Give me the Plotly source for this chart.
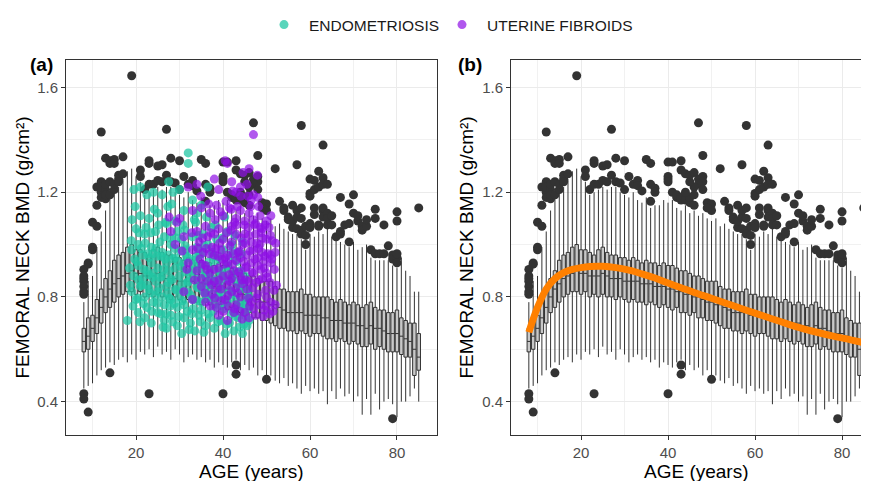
import plotly.graph_objects as go

# ---------------- data ----------------
ages = [8, 9, 10, 11, 12, 13, 14, 15, 16, 17, 18, 19,
        20, 21, 22, 23, 24, 25, 26, 27, 28, 29,
        30, 31, 32, 33, 34, 35, 36, 37, 38, 39,
        40, 41, 42, 43, 44, 45, 46, 47, 48, 49,
        50, 51, 52, 53, 54, 55, 56, 57, 58, 59,
        60, 61, 62, 63, 64, 65, 66, 67, 68, 69,
        70, 71, 72, 73, 74, 75, 76, 77, 78, 79,
        80, 81, 82, 83, 84, 85]

box_q1 = [0.59, 0.60, 0.63, 0.66, 0.70, 0.74, 0.76, 0.78, 0.80, 0.81, 0.82, 0.82,
          0.81, 0.82, 0.80, 0.81, 0.80, 0.81, 0.80, 0.80, 0.79, 0.80,
          0.79, 0.78, 0.79, 0.78, 0.78, 0.77, 0.78, 0.77, 0.76, 0.77,
          0.76, 0.75, 0.76, 0.74, 0.74, 0.73, 0.74, 0.72, 0.72, 0.71,
          0.71, 0.70, 0.69, 0.68, 0.68, 0.67, 0.67, 0.66, 0.67, 0.66,
          0.65, 0.66, 0.66, 0.65, 0.64, 0.64, 0.63, 0.64, 0.63, 0.62,
          0.63, 0.62, 0.61, 0.61, 0.62, 0.60, 0.61, 0.60, 0.59, 0.59,
          0.59, 0.58, 0.57, 0.57, 0.50, 0.52]

box_median = [0.63, 0.65, 0.68, 0.72, 0.76, 0.80, 0.83, 0.85, 0.87, 0.88, 0.89, 0.90,
              0.89, 0.89, 0.88, 0.88, 0.88, 0.89, 0.88, 0.87, 0.87, 0.87,
              0.86, 0.86, 0.86, 0.86, 0.85, 0.85, 0.85, 0.84, 0.84, 0.84,
              0.83, 0.83, 0.82, 0.82, 0.81, 0.81, 0.80, 0.80, 0.79, 0.78,
              0.78, 0.77, 0.77, 0.76, 0.75, 0.74, 0.74, 0.74, 0.74, 0.73,
              0.73, 0.73, 0.73, 0.72, 0.72, 0.71, 0.71, 0.71, 0.70, 0.70,
              0.70, 0.69, 0.69, 0.68, 0.69, 0.68, 0.68, 0.67, 0.66, 0.66,
              0.66, 0.65, 0.64, 0.63, 0.60, 0.57]

box_q3 = [0.68, 0.72, 0.73, 0.79, 0.83, 0.87, 0.90, 0.94, 0.96, 0.97, 0.99, 1.00,
          0.98, 0.98, 0.97, 0.96, 0.98, 0.99, 0.97, 0.96, 0.96, 0.95,
          0.95, 0.94, 0.95, 0.94, 0.93, 0.94, 0.93, 0.93, 0.92, 0.93,
          0.92, 0.92, 0.91, 0.90, 0.90, 0.89, 0.88, 0.88, 0.87, 0.86,
          0.86, 0.86, 0.84, 0.83, 0.83, 0.82, 0.82, 0.82, 0.83, 0.81,
          0.81, 0.80, 0.80, 0.80, 0.80, 0.79, 0.78, 0.79, 0.78, 0.77,
          0.78, 0.77, 0.76, 0.77, 0.78, 0.76, 0.75, 0.75, 0.74, 0.74,
          0.75, 0.72, 0.71, 0.70, 0.70, 0.66]

box_low = [0.45, 0.46, 0.47, 0.50, 0.52, 0.53, 0.55, 0.54, 0.56, 0.57, 0.55, 0.58,
           0.56, 0.59, 0.58, 0.60, 0.57, 0.61, 0.58, 0.59, 0.56, 0.60,
           0.58, 0.55, 0.57, 0.58, 0.56, 0.57, 0.55, 0.56, 0.53, 0.55,
           0.54, 0.53, 0.55, 0.56, 0.52, 0.54, 0.52, 0.53, 0.50, 0.52,
           0.50, 0.50, 0.48, 0.47, 0.49, 0.46, 0.47, 0.45, 0.43, 0.46,
           0.44, 0.45, 0.43, 0.44, 0.39, 0.44, 0.41, 0.45, 0.42, 0.43,
           0.40, 0.42, 0.35, 0.41, 0.35, 0.43, 0.37, 0.40, 0.41, 0.39,
           0.34, 0.40, 0.40, 0.42, 0.45, 0.40]

box_high = [0.78, 0.86, 0.88, 0.99, 1.05, 1.13, 1.18, 1.20, 1.22, 1.25, 1.28, 1.29,
            1.26, 1.24, 1.19, 1.20, 1.21, 1.22, 1.21, 1.22, 1.22, 1.20,
            1.19, 1.18, 1.20, 1.17, 1.16, 1.18, 1.14, 1.15, 1.15, 1.17,
            1.16, 1.17, 1.14, 1.13, 1.15, 1.12, 1.13, 1.11, 1.12, 1.10,
            1.09, 1.10, 1.07, 1.08, 1.06, 1.05, 1.04, 1.04, 1.02, 0.98,
            1.04, 1.03, 1.05, 1.04, 1.06, 1.03, 1.02, 1.01, 1.00, 0.99,
            1.01, 0.98, 0.99, 1.00, 0.95, 0.94, 0.94, 0.94, 0.94, 0.92,
            0.91, 0.95, 0.90, 0.88, 0.82, 0.82]

outlier_age = [8, 8, 8, 8, 8, 8, 8, 8, 8,
               9, 9, 9, 10, 10, 10, 11, 11, 11,
               12, 12, 12, 12, 12, 13, 13, 13, 13, 13,
               14, 14, 14, 14, 14, 15, 15, 15, 15, 16, 16, 16, 17, 17, 19,
               21, 21, 22, 23, 23, 23, 23, 24, 25, 25, 26, 26,
               27, 27, 28, 28, 29, 30, 30,
               31, 32, 33, 33, 34, 35, 36, 36, 36, 37, 37,
               40, 41, 40, 40, 40, 40,
               41, 42, 42, 43, 43, 43, 43, 43, 43,
               44, 45, 46, 47, 48, 48, 47, 46, 48, 45, 48, 47,
               44, 45, 45, 46, 49, 50, 50, 49, 44, 46, 50,
               52, 53, 54, 54, 55, 55, 56, 56, 56,
               57, 57, 57, 57, 58, 58, 58, 58, 58,
               59, 59, 59, 60, 60, 60, 60, 60,
               61, 61, 61, 61, 62, 62, 62, 62,
               63, 63, 63, 63, 63, 63, 64, 64, 64, 64,
               65, 65, 66, 67, 67, 67, 68,
               69, 69, 69, 70, 70, 71, 71, 72, 72, 73, 73,
               74, 75, 75, 75, 76, 77, 77, 78,
               79, 79, 79, 80, 80, 80, 80, 80,
               85]

outlier_bmd = [0.905, 0.88, 0.86, 0.84, 0.82, 0.81, 0.87, 0.43, 0.41,
               0.93, 0.925, 0.36, 1.085, 0.98, 0.99, 1.07, 1.22, 1.15,
               1.43, 1.24, 1.20, 1.18, 1.22, 1.33, 1.21, 1.23, 1.175, 1.19,
               1.32, 1.31, 1.24, 1.19, 0.51, 1.325, 1.21, 1.31, 1.23, 1.265, 1.25, 1.24, 1.335, 1.27, 1.645,
               1.285, 1.26, 1.21, 1.32, 1.23, 0.43, 1.31, 1.23, 1.30, 1.245, 1.305, 1.24,
               1.44, 1.265, 1.33, 1.24, 1.235, 1.32, 1.21,
               1.26, 1.23, 1.245, 1.225, 1.205, 1.325, 1.31, 1.23, 1.165, 1.215, 1.20,
               1.315, 1.315, 1.26, 1.25, 1.24, 0.43,
               1.20, 1.18, 1.19, 1.17, 1.18, 1.32, 1.285, 0.54, 0.505,
               1.27, 1.265, 1.275, 1.25, 1.24, 1.26, 1.23, 1.22, 1.21, 1.24, 1.34, 1.465,
               1.17, 1.16, 1.18, 1.15, 1.16, 1.155, 1.13, 1.14, 1.20, 1.19, 0.485,
               1.29, 1.165, 1.13, 1.14, 1.105, 1.095, 1.065, 1.15, 1.09,
               1.305, 1.105, 1.13, 1.06, 1.455, 1.14, 1.10, 1.055, 1.04,
               1.035, 1.00, 1.07, 1.08, 1.065, 1.195, 1.185, 1.25,
               1.245, 1.14, 1.115, 1.21, 1.28, 1.075, 1.07, 1.22,
               1.38, 1.255, 1.23, 1.13, 1.105, 1.14, 1.23, 1.12, 1.10, 1.075,
               1.11, 1.075, 1.03, 1.04, 1.18, 1.05, 1.075,
               1.155, 1.08, 1.01, 1.19, 1.12, 1.09, 1.11, 1.07, 1.055, 1.07, 1.095,
               0.98, 1.135, 1.10, 0.965, 0.965, 1.075, 0.965, 0.995,
               0.96, 0.945, 0.335, 1.125, 1.09, 0.95, 0.93, 0.965,
               1.14]

endo_age = [19.5, 21, 22.5, 24, 26, 27.5, 28.5, 30, 32, 32, 33, 36.5, 35, 21, 23, 25, 29, 31, 34, 27, 20,
            19, 20.5, 22, 23.5, 24.5, 25.5, 26.5, 28, 29.5, 30.5, 31.5, 33, 34, 35.5, 36.5, 37.5, 38.5, 40, 41, 42,
            43.5, 44.5, 21.5, 23, 26, 27.5, 29, 32, 34.5, 39,
            18.5, 19.5, 20.5, 21.5, 22.5, 23.5, 24.5, 25, 26, 27, 28, 29, 30, 31, 32, 33, 34, 35, 36, 37, 38, 39,
            40, 41, 42, 43, 44, 45, 24, 27.5, 30.5, 33.5, 36.5,
            19, 20, 21, 22, 23, 24, 25, 26, 27, 28, 29, 30, 31, 32, 33, 34, 35, 36, 37, 38, 39, 40, 41, 42, 43,
            44, 45, 46, 22.5, 26.5, 29.5, 35.5,
            18, 20.5, 22, 23.5, 25, 26.5, 28, 29.5, 31, 32.5, 33.5, 34.5, 36, 37, 38, 39.5, 40.5, 41.5, 42.5,
            43.5, 44.5, 45.5, 46, 27, 30.5, 35,
            20.2, 21.3, 22.7, 23.2, 24.8, 25.3, 26.4, 27.2, 28.6, 29.3, 30.2, 31.4, 32.6, 33.3, 34.2, 35.1, 36.3,
            37.2, 38.4, 39.3, 40.2, 41.3, 42.4, 43.2, 44.3, 45.2,
            19.8, 22.3, 24.2, 26.8, 28.2, 30.8, 33.7, 36.2, 25.7, 27.8, 31.8, 34.8, 37.8, 40.8, 43.8, 29.8,
            21.8, 23.8, 25.8, 27.4, 28.9, 30.4, 31.9, 33.9, 35.8, 37.7, 39.7, 41.7, 43.7, 45.7,
            19.3, 20.9, 23.6, 26.2, 28.4, 32.2, 35.6, 38.8, 41.9, 44.9,
            22.1, 24.6, 27.9, 31.2, 34.4, 37.3, 39.9, 42.7,
            20.6, 21.7, 22.9, 23.9, 24.4, 25.6, 26.7, 27.7, 28.3, 29.7, 30.7, 31.6, 32.4, 33.1, 34.6, 35.3, 36.8,
            37.6, 38.6, 39.4, 40.6, 41.6, 42.8, 43.4, 44.7, 45.6,
            21.2, 23.4, 25.2, 27.3, 29.2, 31.3, 33.4, 35.7, 38.2, 40.4, 42.2, 44.2,
            20.4, 22.6, 24.9, 26.9, 28.8, 30.9, 32.8, 34.1, 36.6, 38.9, 40.9, 42.9, 44.8, 45.9,
            18.7, 19.7, 18.9, 20.7, 19.1]

endo_bmd = [1.21, 1.22, 1.19, 1.20, 1.19, 1.24, 1.20, 1.21, 1.35, 1.31, 1.17, 1.22, 1.15, 1.11, 1.10, 1.12, 1.09, 1.13, 1.12, 1.08, 1.06,
            0.98, 1.00, 1.04, 0.99, 1.05, 1.01, 1.03, 1.00, 1.05, 1.02, 0.98, 1.03, 0.99, 1.04, 1.00, 0.97, 1.02, 0.98, 1.05, 1.00,
            0.97, 1.01, 0.96, 0.95, 0.97, 0.96, 0.95, 0.95, 0.96, 0.95,
            0.91, 0.88, 0.92, 0.87, 0.90, 0.93, 0.86, 0.91, 0.88, 0.93, 0.87, 0.91, 0.88, 0.93, 0.86, 0.90, 0.87, 0.92, 0.88, 0.91, 0.86, 0.90,
            0.87, 0.92, 0.88, 0.86, 0.90, 0.88, 0.89, 0.90, 0.85, 0.94, 0.85,
            0.82, 0.79, 0.84, 0.80, 0.83, 0.78, 0.82, 0.80, 0.84, 0.79, 0.83, 0.80, 0.77, 0.82, 0.79, 0.84, 0.78, 0.81, 0.83, 0.77, 0.80, 0.82, 0.78, 0.81, 0.79,
            0.83, 0.77, 0.80, 0.76, 0.77, 0.76, 0.82,
            0.71, 0.74, 0.72, 0.70, 0.74, 0.71, 0.73, 0.69, 0.72, 0.70, 0.67, 0.73, 0.69, 0.72, 0.68, 0.71, 0.66, 0.70, 0.67,
            0.72, 0.66, 0.69, 0.71, 0.68, 0.66, 0.75,
            0.935, 0.845, 0.965, 0.815, 0.955, 0.835, 0.905, 0.815, 0.945, 0.825, 0.975, 0.895, 0.805, 0.925, 0.835, 0.965, 0.795,
            0.875, 0.935, 0.845, 0.755, 0.865, 0.745, 0.935, 0.775, 0.725,
            1.145, 1.065, 1.135, 1.085, 1.155, 1.075, 1.085, 1.105, 0.735, 0.765, 0.745, 0.705, 0.745, 0.695, 0.685, 0.725,
            0.905, 0.875, 0.955, 0.855, 0.985, 0.915, 0.855, 0.955, 0.885, 0.955, 0.885, 0.955, 0.845, 0.825,
            0.765, 0.705, 0.745, 0.685, 0.705, 0.675, 0.665, 0.705, 0.735, 0.745,
            1.005, 0.985, 1.025, 1.055, 1.035, 1.065, 1.025, 1.035,
            0.865, 0.775, 0.885, 0.965, 0.805, 0.875, 0.945, 0.795, 0.865, 0.935, 0.785, 0.955, 0.885, 0.755, 0.905, 0.845, 0.935,
            0.795, 0.865, 0.765, 0.905, 0.825, 0.895, 0.765, 0.855, 0.795,
            0.985, 1.045, 1.075, 1.145, 1.025, 0.995, 1.095, 0.995, 1.075, 1.105, 0.975, 0.965,
            0.795, 0.845, 0.775, 0.735, 0.775, 0.825, 0.735, 0.785, 0.735, 0.815, 0.785, 0.725, 0.695, 0.755,
            0.845, 0.945, 1.015, 1.045, 1.095]

fib_age = [47, 46, 40.5, 41, 32, 34, 38, 39, 42, 44, 45.5, 47, 43, 48, 46.5,
           30, 33, 35, 37, 38.5, 40, 41.5, 43, 44, 45, 46, 47.5, 48.5, 49, 50, 51, 36, 39, 42, 34, 28,
           29, 31, 33, 34.5, 35.5, 36.5, 37.5, 38, 39.5, 40, 41, 42, 43, 43.5, 44.5, 45, 45.5, 46.5, 47, 47.5,
           48, 48.5, 49, 50, 51, 52, 44, 40.5, 38,
           32, 34, 35, 36, 37, 38, 39, 40, 41, 42, 42.5, 43, 44, 45, 46, 46.5, 47, 48, 49, 49.5, 50, 51, 44.5, 41.5, 36.5,
           31, 33, 35, 36, 37.5, 38.5, 39.5, 40.5, 41, 42, 43, 44, 45, 45.5, 46.5, 47.5, 48, 48.5, 49.5, 50, 51, 52,
           42.5, 46, 39,
           33.4, 34.7, 35.8, 36.9, 37.9, 38.7, 39.2, 40.3, 40.9, 41.8, 42.3, 42.9, 43.6, 44.2, 44.8, 45.3, 45.8,
           46.2, 46.8, 47.3, 47.8, 48.3, 48.8, 49.3, 49.8, 50.3, 50.8, 51.3, 51.8, 52.3,
           38.2, 40.7, 43.3, 45.7, 48.2, 36.7, 34.9, 42.2, 47.9, 44.6,
           39.6, 41.2, 43.9, 46.1, 47.7, 49.2, 50.7, 44.4, 40.1, 37.1,
           30.6, 31.7, 32.8, 29.4, 27.6, 35.3, 36.1, 38.9, 41.6, 43.1, 45.1, 46.9, 49.7, 50.9,
           36.3, 37.4, 38.3, 39.1, 39.8, 40.8, 41.4, 42.1, 42.7, 43.8, 44.3, 44.9, 45.4, 46.0, 46.7, 47.2, 47.6,
           48.1, 48.7, 49.1, 49.6, 50.2, 50.6, 51.2, 51.7, 52.1,
           35.2, 34.2, 37.2, 39.4, 41.9, 44.1, 46.4, 48.6, 45.9, 43.4, 41.1, 38.1, 42.6, 47.1, 49.9, 51.5]

fib_bmd = [1.42, 1.29, 1.32, 1.31, 1.22, 1.23, 1.25, 1.21, 1.24, 1.22, 1.23, 1.19, 1.20, 1.18, 1.17,
           1.10, 1.13, 1.14, 1.12, 1.15, 1.11, 1.14, 1.10, 1.13, 1.09, 1.12, 1.08, 1.11, 1.06, 1.09, 1.11, 1.07, 1.06, 1.07, 1.05, 1.05,
           1.00, 1.03, 0.98, 1.01, 0.97, 1.03, 0.99, 1.04, 0.98, 1.02, 0.96, 1.01, 1.04, 0.97, 1.00, 1.04, 0.96, 1.01, 0.98, 1.04,
           0.95, 1.00, 0.97, 1.02, 0.96, 0.97, 0.95, 0.95, 0.96,
           0.93, 0.90, 0.87, 0.92, 0.89, 0.86, 0.91, 0.88, 0.93, 0.87, 0.90, 0.94, 0.88, 0.91, 0.86, 0.93, 0.89, 0.92, 0.87, 0.91, 0.89, 0.93, 0.85, 0.86, 0.86,
           0.82, 0.79, 0.84, 0.78, 0.81, 0.76, 0.83, 0.79, 0.71, 0.82, 0.77, 0.80, 0.74, 0.83, 0.78, 0.73, 0.81, 0.77, 0.75, 0.80, 0.78, 0.77,
           0.74, 0.72, 0.73,
           0.865, 0.945, 0.815, 0.965, 0.905, 0.835, 1.005, 0.925, 0.845, 1.055, 0.965, 0.835, 0.895, 1.025, 0.935, 0.865, 1.065,
           0.975, 0.835, 0.945, 1.005, 0.865, 1.045, 0.935, 0.825, 0.965, 0.855, 1.015, 0.905, 0.845,
           1.095, 1.165, 1.145, 1.185, 1.145, 1.155, 1.185, 1.205, 1.265, 1.275,
           0.785, 0.765, 0.745, 0.765, 0.795, 0.725, 0.735, 0.715, 0.745, 0.765,
           0.975, 0.905, 1.045, 1.085, 1.105, 1.025, 0.985, 0.955, 0.995, 1.075, 1.005, 1.095, 1.075, 1.035,
           0.905, 0.845, 0.985, 0.865, 0.945, 1.045, 0.885, 0.925, 1.085, 0.975, 0.865, 1.075, 0.915, 1.035, 0.895, 1.075, 0.855,
           0.985, 0.905, 1.025, 0.955, 0.875, 1.065, 0.945, 0.825, 1.005,
           0.925, 0.985, 1.045, 1.125, 1.135, 1.185, 1.145, 1.065, 0.795, 0.815, 0.805, 0.795, 0.755, 0.755, 0.765, 0.745]

fit_age = [8, 10, 12, 14, 16, 18, 20, 22, 25, 28, 31, 34, 37, 40, 43, 46, 50, 54, 58, 62, 66, 70, 74, 78, 82, 85]
fit_bmd = [0.665, 0.76, 0.83, 0.87, 0.893, 0.905, 0.912, 0.916, 0.917, 0.912, 0.902, 0.888, 0.872, 0.853,
           0.835, 0.817, 0.795, 0.772, 0.749, 0.727, 0.705, 0.684, 0.666, 0.65, 0.636, 0.625]

# ---------------- figure ----------------
# The page adds an 8px body margin, so the figure is 8px smaller and all
# reference pixel positions are shifted by 8px.
OFF = 8
W, H = 869 - OFF, 481 - OFF
PLOT_TOP, PLOT_BOT = 53 - OFF, 435 - OFF
PH = PLOT_BOT - PLOT_TOP
DARK = "#333333"
FONT = "Liberation Sans, Arial, sans-serif"


def px(xr):
    return (xr - OFF) / W


def py(yr):
    return (PLOT_BOT - (yr - OFF)) / PH


fig = go.Figure()

for xa, ya in (("x", "y"), ("x2", "y2")):
    fig.add_trace(go.Box(
        x=ages, q1=box_q1, median=box_median, q3=box_q3,
        lowerfence=box_low, upperfence=box_high,
        width=0.8, whiskerwidth=0, boxpoints=False,
        line=dict(color=DARK, width=1), fillcolor="#C8C8C8",
        xaxis=xa, yaxis=ya, showlegend=False, hoverinfo="skip"))
    fig.add_trace(go.Scatter(
        x=outlier_age, y=outlier_bmd, mode="markers", cliponaxis=False,
        marker=dict(color=DARK, size=9, line=dict(width=0)),
        xaxis=xa, yaxis=ya, showlegend=False, hoverinfo="skip"))

fig.add_trace(go.Scatter(
    x=endo_age, y=endo_bmd, mode="markers", name="ENDOMETRIOSIS", legend="legend",
    marker=dict(color="#22C7A4", size=9, opacity=0.75, line=dict(width=0)),
    xaxis="x", yaxis="y"))
fig.add_trace(go.Scatter(
    x=fib_age, y=fib_bmd, mode="markers", name="UTERINE FIBROIDS", legend="legend2",
    marker=dict(color="#8E10E6", size=9, opacity=0.7, line=dict(width=0)),
    xaxis="x", yaxis="y"))

fig.add_trace(go.Scatter(
    x=fit_age, y=fit_bmd, mode="lines", line=dict(color="#FF8000", width=7, shape="spline"),
    xaxis="x2", yaxis="y2", showlegend=False, hoverinfo="skip"))

yr = [0.2725, 1.705]
tickfont = dict(size=15, color="#4D4D4D", family=FONT)
common_x = dict(tickvals=[20, 40, 60, 80], showgrid=True, gridcolor="#EBEBEB", gridwidth=1.1,
                minor=dict(tickvals=[10, 30, 50, 70], showgrid=True, gridcolor="#F1F1F1", gridwidth=0.6),
                zeroline=False, showline=True, linecolor=DARK, linewidth=1,
                ticks="outside", ticklen=4, tickcolor=DARK, tickwidth=1, tickfont=tickfont)
common_y = dict(range=yr, tickvals=[0.4, 0.8, 1.2, 1.6], ticktext=["0.4", "0.8", "1.2", "1.6"],
                showgrid=True, gridcolor="#EBEBEB", gridwidth=1.1,
                minor=dict(tickvals=[0.6, 1.0, 1.4], showgrid=True, gridcolor="#F1F1F1", gridwidth=0.6),
                zeroline=False, showline=True, linecolor=DARK, linewidth=1,
                ticks="outside", ticklen=4, tickcolor=DARK, tickwidth=1, tickfont=tickfont)

legend_common = dict(orientation="h", xanchor="left", y=py(17), yanchor="middle",
                     font=dict(size=15.5, color="#1A1A1A", family=FONT), itemwidth=40,
                     bgcolor="rgba(0,0,0,0)")

title_font = dict(size=19, color="black", family=FONT)
fig.update_layout(
    width=W, height=H,
    margin=dict(l=0, r=0, t=PLOT_TOP, b=H - PLOT_BOT),
    paper_bgcolor="white", plot_bgcolor="white",
    font=dict(family=FONT, color="black"),
    xaxis=dict(domain=[px(66), px(437)], range=[3.9, 89.2], mirror=True, anchor="y", **common_x),
    yaxis=dict(domain=[0, 1], anchor="x", mirror=True, **common_y),
    xaxis2=dict(domain=[px(511), 1.0], range=[3.9, 86.2], mirror=True, anchor="y2", **common_x),
    yaxis2=dict(domain=[0, 1], anchor="x2", mirror=False, **common_y),
    legend=dict(x=px(259), **legend_common),
    legend2=dict(x=px(437), **legend_common),
    annotations=[
        dict(text="<b>(a)</b>", x=px(41), y=py(58), xref="paper", yref="paper",
             showarrow=False, font=title_font, xanchor="center", yanchor="middle"),
        dict(text="<b>(b)</b>", x=px(470), y=py(58), xref="paper", yref="paper",
             showarrow=False, font=title_font, xanchor="center", yanchor="middle"),
        dict(text="FEMORAL NECK BMD (g/cm²)", x=px(22), y=0.5, xref="paper", yref="paper",
             textangle=-90, showarrow=False, font=title_font, xanchor="center", yanchor="middle"),
        dict(text="FEMORAL NECK BMD (g/cm²)", x=px(466), y=0.5, xref="paper", yref="paper",
             textangle=-90, showarrow=False, font=title_font, xanchor="center", yanchor="middle"),
        dict(text="AGE (years)", x=px(251), y=py(472), xref="paper", yref="paper",
             showarrow=False, font=title_font, xanchor="center", yanchor="middle"),
        dict(text="AGE (years)", x=px(696), y=py(472), xref="paper", yref="paper",
             showarrow=False, font=title_font, xanchor="center", yanchor="middle"),
    ],
)

fig.write_html("out.html")
